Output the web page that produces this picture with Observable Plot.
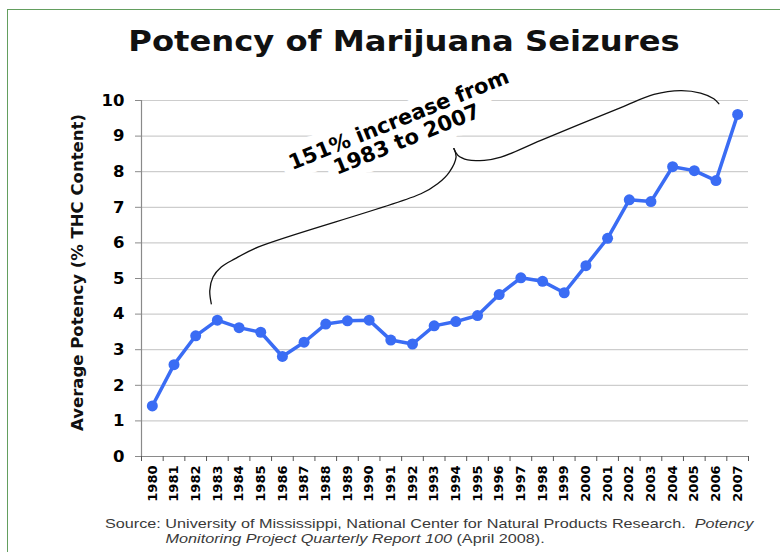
<!DOCTYPE html>
<html>
<head>
<meta charset="utf-8">
<script src="https://cdn.jsdelivr.net/npm/d3@7"></script>
<script src="https://cdn.jsdelivr.net/npm/@observablehq/plot@0.6"></script>
<style>
  html, body { margin: 0; padding: 0; background: #fff; }
  #wrap { position: relative; width: 780px; height: 552px; overflow: hidden; background: #fff; }
  #frame { position: absolute; left: 7px; top: 8.5px; width: 800px; height: 600px;
           border-left: 1.6px solid #639e5e; border-top: 1.6px solid #639e5e; }
  #chart { position: absolute; left: 0; top: 0; }
  #title { position: absolute; left: 14px; top: 28px; width: 780px; text-align: center;
           font-family: "DejaVu Sans", sans-serif; font-weight: bold; font-size: 28px; line-height: 28px;
           color: #111; transform: scaleX(1.15); transform-origin: 50% 50%; white-space: nowrap; }
  #source { position: absolute; left: 105px; top: 516px; font-family: "Liberation Sans", Arial, sans-serif;
            font-size: 13.5px; line-height: 15px; color: #3a3a3a; transform: scaleX(1.2);
            transform-origin: 0 0; white-space: nowrap; }
  #source .l2 { padding-left: 50.5px; }
</style>
</head>
<body>
<div id="wrap">
  <div id="frame"></div>
  <div id="chart"></div>
  <div id="title">Potency of Marijuana Seizures</div>
  <div id="source">
    <div>Source: University of Mississippi, National Center for Natural Products Research.&nbsp; <i>Potency</i></div>
    <div class="l2"><i>Monitoring Project Quarterly Report 100</i> (April 2008).</div>
  </div>
</div>
<script>
// ---- data ----
const years = [1980,1981,1982,1983,1984,1985,1986,1987,1988,1989,1990,1991,1992,1993,
               1994,1995,1996,1997,1998,1999,2000,2001,2002,2003,2004,2005,2006,2007];
const potency = [1.42,2.58,3.39,3.83,3.62,3.49,2.81,3.21,3.72,3.81,3.83,3.27,3.16,3.67,
                 3.79,3.96,4.55,5.02,4.92,4.60,5.36,6.13,7.21,7.16,8.14,8.03,7.75,9.61];
const yTicks = [0,1,2,3,4,5,6,7,8,9,10];
const yLabel = "Average Potency (% THC Content)";
const noteText = "151% increase from\n1983 to 2007";
const notePos = [{x: 1991.55, y: 9.18}];
// brace annotation, in data coordinates (year, % THC)
const braceLeftX  = [1982.72,1982.65,1982.80,1983.18,1983.80,1984.87,1992.39,1993.16,1993.70,1994.01,1993.91];
const braceLeftY  = [4.29,4.66,5.04,5.32,5.55,5.88,7.38,7.66,7.99,8.41,8.65];
const braceRightX = [1993.91,1994.09,1994.55,1995.31,1996.08,1997.92,2001.61,2003.14,2004.37,2005.29,2005.90,2006.13];
const braceRightY = [8.65,8.46,8.33,8.32,8.41,8.88,9.80,10.17,10.28,10.21,10.05,9.91];

const data = years.map((y, i) => ({year: y, potency: potency[i]}));
const brace = [
  ...braceLeftX.map((x, i) => ({arm: "L", x, y: braceLeftY[i]})),
  ...braceRightX.map((x, i) => ({arm: "R", x, y: braceRightY[i]}))
];
const halfYears = [...years.map(y => y - 0.5), years[years.length - 1] + 0.5];

const font = "DejaVu Sans, sans-serif";
const blue = "#3a6cf4";
const noteStyle = {x: "x", y: "y", text: () => noteText, rotate: -22, fontSize: 21,
                   fontWeight: "bold", fontFamily: font, lineHeight: 1.0};

const chart = Plot.plot({
  width: 780,
  height: 552,
  marginLeft: 141,
  marginRight: 32,
  marginTop: 100,
  marginBottom: 96,
  style: {fontFamily: font, color: "#000", background: "transparent"},
  x: {domain: [1979.5, 2007.5]},
  y: {domain: [0, 10]},
  marks: [
    Plot.ruleY(yTicks.slice(1), {stroke: "#cdcdcd", strokeWidth: 1.2}),
    // white box behind the annotation (halo), then the annotation text itself
    Plot.text(notePos, {...noteStyle, fill: "#fff", stroke: "#fff", strokeWidth: 20}),
    Plot.line(brace, {x: "x", y: "y", z: "arm", curve: "catmull-rom", stroke: "#111", strokeWidth: 1.3}),
    Plot.text(notePos, {...noteStyle, fill: "#000"}),
    Plot.ruleX([1979.5], {stroke: "#8a8a8a", strokeWidth: 1.2}),
    Plot.ruleY([0], {stroke: "#8a8a8a", strokeWidth: 1.2}),
    Plot.axisY(yTicks, {tickSize: 6, tickPadding: 11, fontSize: 16.5, fontWeight: "bold",
      fontFamily: font, label: null, stroke: "#8a8a8a"}),
    Plot.axisX(halfYears, {tickSize: 5, tickFormat: () => "", label: null, stroke: "#555"}),
    Plot.axisX(years, {tickSize: 0, tickPadding: 9, tickRotate: -90, fontSize: 13, fontWeight: "bold",
      fontFamily: font, tickFormat: d => String(d), label: null}),
    Plot.text([yLabel], {frameAnchor: "left", textAnchor: "middle", text: d => d, rotate: -90, dx: -64, dy: -6,
      fontSize: 16.5, fontWeight: "bold", fontFamily: font, fill: "#111"}),
    Plot.line(data, {x: "year", y: "potency", stroke: blue, strokeWidth: 3.5}),
    Plot.dot(data, {x: "year", y: "potency", r: 5.5, fill: blue, stroke: "none"})
  ]
});
document.getElementById("chart").appendChild(chart);
</script>
</body>
</html>
